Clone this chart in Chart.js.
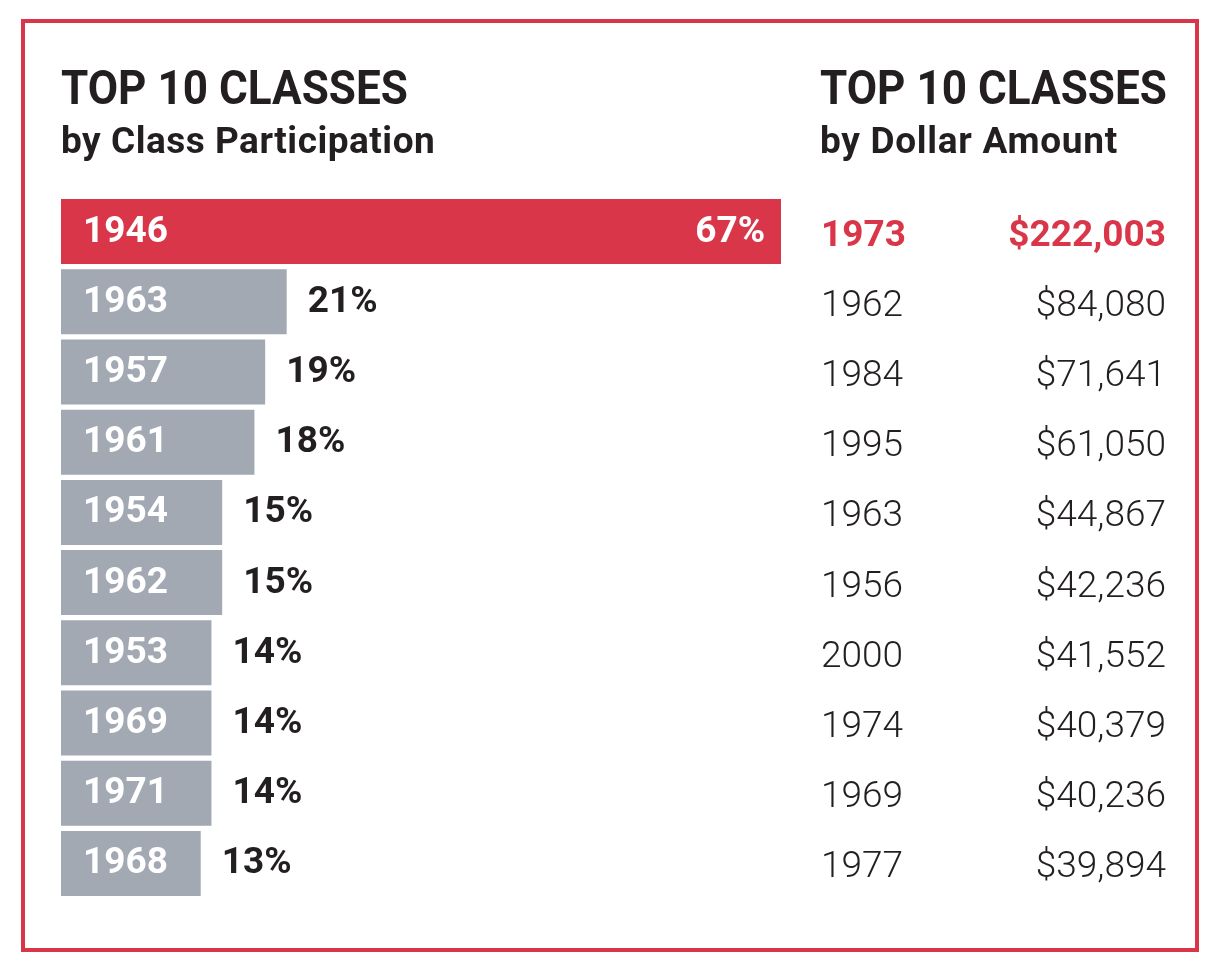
<!DOCTYPE html>
<html><head><meta charset="utf-8">
<script src="https://cdn.jsdelivr.net/npm/chart.js@4.4.1/dist/chart.umd.min.js"></script>
<style>
html,body{margin:0;padding:0;background:#fff;}
#wrap{position:relative;width:1212px;height:960px;overflow:hidden;}
#frame{position:absolute;left:21px;top:19px;width:1170px;height:925px;border:4px solid #DA3649;}
canvas{position:absolute;left:0;top:0;}
.t{position:absolute;font-family:Roboto,sans-serif;font-weight:700;color:#231F20;white-space:nowrap;line-height:1;}
.h1{font-size:48px;transform:scaleX(0.918);transform-origin:0 0;}
.h2{font-size:37px;letter-spacing:0.5px;}
</style>
</head>
<body>
<div id="wrap">
  <div id="frame"></div>
  <canvas id="c" width="1212" height="960"></canvas>
  <div class="t h1" style="left:61px;top:64px;">TOP 10 CLASSES</div>
  <div class="t h2" style="left:61px;top:122px;">by Class Participation</div>
  <div class="t h1" style="left:820px;top:64px;">TOP 10 CLASSES</div>
  <div class="t h2" style="left:820px;top:122px;letter-spacing:0.7px;">by Dollar Amount</div>
</div>
<script>
const years = ['1946','1963','1957','1961','1954','1962','1953','1969','1971','1968'];
const participation = [67,21,19,18,15,15,14,14,14,13];
const dollarYears = ['1973','1962','1984','1995','1963','1956','2000','1974','1969','1977'];
const dollarAmounts = [222003,84080,71641,61050,44867,42236,41552,40379,40236,39894];

const RED = '#DA3649', GRAY = '#A2A9B2', DARK = '#231F20';

const labelsPlugin = {
  id: 'labels',
  afterDatasetsDraw(chart) {
    const ctx = chart.ctx;
    const meta = chart.getDatasetMeta(0);
    const yScale = chart.scales.y;
    ctx.save();
    meta.data.forEach((bar, i) => {
      const base = bar.y + 10;
      ctx.font = '700 37px Roboto';
      ctx.fillStyle = '#ffffff';
      ctx.textAlign = 'left';
      ctx.textBaseline = 'alphabetic';
      ctx.fillText(years[i], 83, base);
      const pct = participation[i] + '%';
      if (i === 0) {
        ctx.textAlign = 'right';
        ctx.fillText(pct, bar.x - 16, base);
      } else {
        ctx.fillStyle = DARK;
        ctx.textAlign = 'left';
        ctx.fillText(pct, bar.x + 21, base);
      }
    });
    dollarYears.forEach((yr, i) => {
      const yb = yScale.getPixelForValue(i) + 14;
      ctx.font = i === 0 ? '700 37px Roboto' : '300 37px Roboto';
      ctx.fillStyle = i === 0 ? RED : DARK;
      ctx.textAlign = 'left';
      ctx.fillText(yr, 821, yb);
      ctx.textAlign = 'right';
      ctx.fillText('$' + dollarAmounts[i].toLocaleString('en-US'), 1166, yb);
    });
    ctx.restore();
  }
};

new Chart(document.getElementById('c'), {
  type: 'bar',
  data: {
    labels: years,
    datasets: [{
      data: participation,
      backgroundColor: participation.map((v, i) => i === 0 ? RED : GRAY),
      borderWidth: 0,
      barPercentage: 0.926,
      categoryPercentage: 1
    }]
  },
  options: {
    indexAxis: 'y',
    responsive: false,
    animation: false,
    devicePixelRatio: 1,
    layout: { padding: { left: 61, right: 431, top: 196.4, bottom: 61.4 } },
    scales: {
      x: { display: false, min: 0, max: 67 },
      y: { display: false }
    },
    plugins: { legend: { display: false }, tooltip: { enabled: false }, title: { display: false } }
  },
  plugins: [labelsPlugin]
});
</script>
</body></html>
